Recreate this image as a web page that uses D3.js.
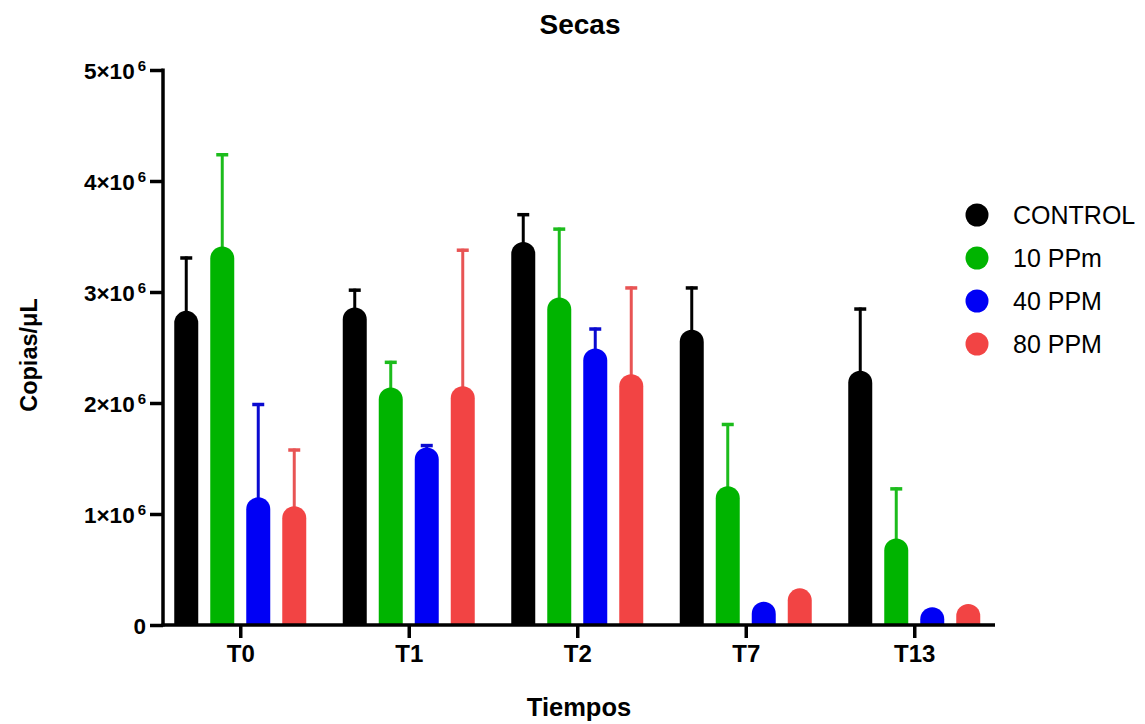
<!DOCTYPE html>
<html>
<head>
<meta charset="utf-8">
<script src="https://d3js.org/d3.v7.min.js"></script>
<style>
  html, body { margin: 0; padding: 0; background: #fff; }
  svg { display: block; font-family: "Liberation Sans", Arial, sans-serif; }
</style>
</head>
<body>
<svg id="chart" width="1145" height="724"></svg>
<script>
// Sampling times (x groups) and treatments (bars within a group)
const categories = ["T0", "T1", "T2", "T7", "T13"];
const series = ["CONTROL", "10 PPm", "40 PPM", "80 PPM"];
const colors = ["#000000", "#00b400", "#0000f5", "#f24444"];
const errColors = ["#000000", "#1cbc1c", "#0a0ad0", "#e85454"];

// Mean copies/µL per treatment, one value per time point
const controlMean = [2.83e6, 2.86e6, 3.45e6, 2.66e6, 2.29e6];
const ppm10Mean   = [3.41e6, 2.14e6, 2.95e6, 1.25e6, 0.78e6];
const ppm40Mean   = [1.15e6, 1.60e6, 2.49e6, 0.21e6, 0.16e6];
const ppm80Mean   = [1.07e6, 2.15e6, 2.26e6, 0.33e6, 0.19e6];

// Standard deviation (upper error bar only)
const controlSD = [0.49e6, 0.17e6, 0.26e6, 0.39e6, 0.57e6];
const ppm10SD   = [0.84e6, 0.24e6, 0.63e6, 0.57e6, 0.46e6];
const ppm40SD   = [0.85e6, 0.03e6, 0.19e6, 0, 0];
const ppm80SD   = [0.52e6, 1.24e6, 0.79e6, 0, 0];

// Y axis ticks
const yTicks = [0, 1e6, 2e6, 3e6, 4e6, 5e6];
const yTickMantissa = ["0", "1", "2", "3", "4", "5"];

const means = [controlMean, ppm10Mean, ppm40Mean, ppm80Mean];
const sds = [controlSD, ppm10SD, ppm40SD, ppm80SD];

const rows = [];
series.forEach((s, si) => {
  categories.forEach((c, ci) => {
    rows.push({ series: s, si, cat: c, mean: means[si][ci], sd: sds[si][ci] });
  });
});

const svg = d3.select("#chart");
const axisX = 163, axisY = 625, axisRight = 995;

const x = d3.scalePoint().domain(categories).range([156, 998.5]).padding(0.5);
const xi = d3.scaleBand().domain(series).range([-72, 72]).paddingInner(1 / 3).paddingOuter(1 / 6);
const y = d3.scaleLinear().domain([0, 5e6]).range([axisY, 70]);

// Bar with a semicircular top
function barPath(d) {
  const w = xi.bandwidth();
  const r = w / 2;
  const x0 = x(d.cat) + xi(d.series);
  const y0 = y(0);
  const yt = y(d.mean);
  const h = y0 - yt;
  if (h >= r) {
    return `M${x0},${y0}V${yt + r}A${r},${r} 0 0 1 ${x0 + w},${yt + r}V${y0}Z`;
  }
  const ry = Math.max(h, 1);
  return `M${x0},${y0}A${r},${ry} 0 0 1 ${x0 + w},${y0}Z`;
}

// Error bars (drawn under the bars so the stem starts at the bar top)
const eb = svg.append("g").attr("class", "errorbars");
rows.filter(d => d.sd > 0).forEach(d => {
  const cx = x(d.cat) + xi(d.series) + xi.bandwidth() / 2;
  const yTop = y(d.mean + d.sd);
  eb.append("line")
    .attr("x1", cx).attr("x2", cx)
    .attr("y1", y(d.mean) + 2).attr("y2", yTop)
    .attr("stroke", errColors[d.si]).attr("stroke-width", 3);
  eb.append("line")
    .attr("x1", cx - 6).attr("x2", cx + 6)
    .attr("y1", yTop + 1.5).attr("y2", yTop + 1.5)
    .attr("stroke", errColors[d.si]).attr("stroke-width", 3.5);
});

svg.append("g").attr("class", "bars")
  .selectAll("path").data(rows).join("path")
  .attr("d", barPath)
  .attr("fill", d => colors[d.si]);

// Y axis
const yAxis = svg.append("g").attr("transform", `translate(${axisX},0)`)
  .call(d3.axisLeft(y).tickValues(yTicks).tickSize(13).tickFormat(() => ""));
yAxis.select(".domain").remove();
yAxis.selectAll(".tick line").attr("stroke", "#000").attr("stroke-width", 3.5);
yAxis.selectAll(".tick").each(function (v, i) {
  const t = d3.select(this).append("text")
    .attr("x", -17).attr("y", 0).attr("dy", "0.36em")
    .attr("text-anchor", "end")
    .attr("fill", "#000")
    .style("font-size", "22.5px").style("font-weight", "bold");
  if (v === 0) {
    t.text("0");
  } else {
    t.append("tspan").text(yTickMantissa[i] + "×10");
    t.append("tspan").attr("dx", 3).attr("dy", "-0.5em")
      .style("font-size", "15px").text("6");
  }
});
svg.append("line")
  .attr("x1", axisX).attr("x2", axisX)
  .attr("y1", y(5e6) - 1.5).attr("y2", axisY + 1.5)
  .attr("stroke", "#000").attr("stroke-width", 3.5);

// X axis
const xAxis = svg.append("g").attr("transform", `translate(0,${axisY})`)
  .call(d3.axisBottom(x).tickSize(13).tickPadding(7));
xAxis.select(".domain").remove();
xAxis.selectAll(".tick line").attr("stroke", "#000").attr("stroke-width", 3.5);
xAxis.selectAll(".tick text")
  .attr("fill", "#000")
  .style("font-size", "24px").style("font-weight", "bold");
svg.append("line")
  .attr("x1", axisX - 1.5).attr("x2", axisRight)
  .attr("y1", axisY).attr("y2", axisY)
  .attr("stroke", "#000").attr("stroke-width", 3.5);

// Titles
svg.append("text")
  .attr("x", 580).attr("y", 34).attr("text-anchor", "middle")
  .style("font-size", "28px").style("font-weight", "bold")
  .text("Secas");
svg.append("text")
  .attr("x", 579).attr("y", 716).attr("text-anchor", "middle")
  .style("font-size", "25.5px").style("font-weight", "bold")
  .text("Tiempos");
svg.append("text")
  .attr("transform", `translate(37,${355}) rotate(-90)`)
  .attr("text-anchor", "middle")
  .style("font-size", "23.5px").style("font-weight", "bold")
  .text("Copias/μL");

// Legend
const legend = svg.append("g").attr("transform", "translate(977,215)");
series.forEach((s, i) => {
  const g = legend.append("g").attr("transform", `translate(0,${i * 43})`);
  g.append("circle").attr("r", 11.5).attr("fill", colors[i]);
  g.append("text").attr("x", 36).attr("dy", "0.36em")
    .style("font-size", "25px").text(s);
});
</script>
</body>
</html>
